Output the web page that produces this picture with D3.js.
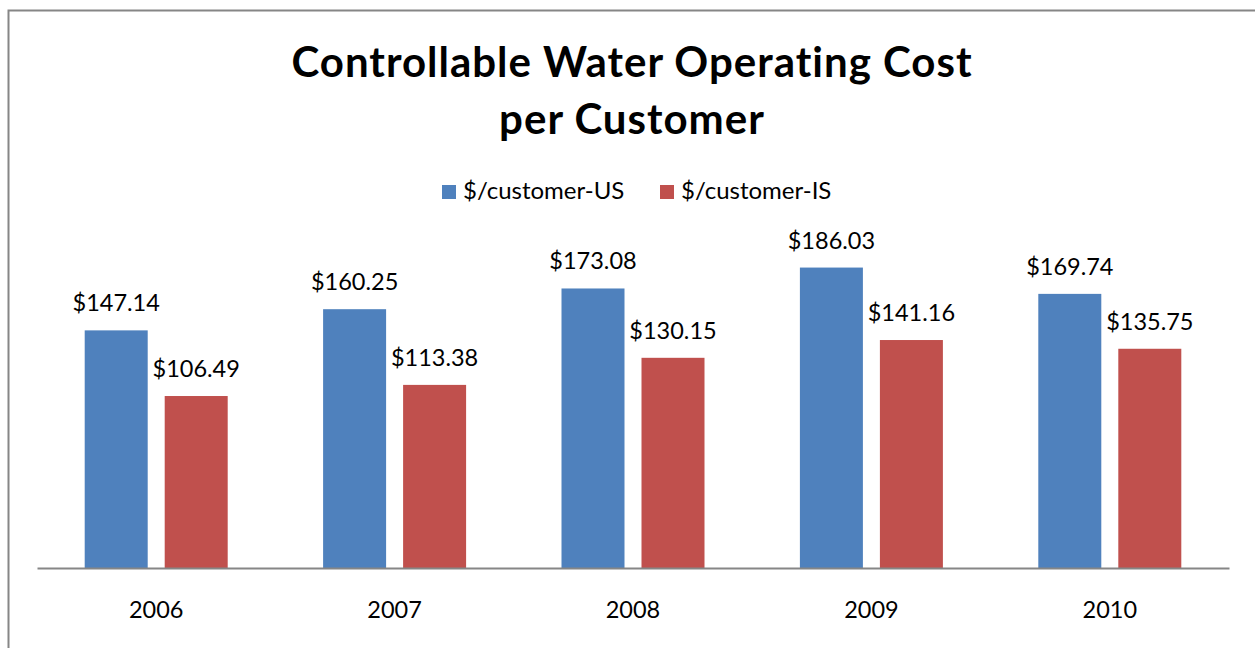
<!DOCTYPE html>
<html>
<head>
<meta charset="utf-8">
<script src="https://cdn.jsdelivr.net/npm/d3@7"></script>
<style>
  html, body { margin: 0; padding: 0; background: #fff; }
  svg { display: block; font-family: Lato, "Open Sans", sans-serif; }
</style>
</head>
<body>
<svg id="chart" width="1255" height="648"></svg>
<script>
// Chart data
const years = ["2006", "2007", "2008", "2009", "2010"];
const seriesNames = ["$/customer-US", "$/customer-IS"];
const usValues = [147.14, 160.25, 173.08, 186.03, 169.74];
const isValues = [106.49, 113.38, 130.15, 141.16, 135.75];
const colors = ["#4f81bd", "#c0504d"];
const titleLines = ["Controllable Water Operating Cost", "per Customer"];

const rows = years.map((y, i) => ({ year: y, vals: [usValues[i], isValues[i]] }));

const svg = d3.select("#chart");

// outer frame (runs off the right and bottom edges)
svg.append("rect")
  .attr("x", 8.5).attr("y", 10.5)
  .attr("width", 1260).attr("height", 660)
  .attr("fill", "#fff")
  .attr("stroke", "#868686").attr("stroke-width", 2);

// title
const title = svg.append("text")
  .attr("text-anchor", "middle")
  .attr("font-weight", "bold")
  .attr("font-size", 42)
  .attr("letter-spacing", 1)
  .attr("fill", "#000");
titleLines.forEach((t, i) => {
  title.append("tspan").attr("x", 632).attr("y", 77 + i * 57).text(t);
});

// plot geometry
const plotLeft = 37, plotRight = 1229, plotBase = 568, plotTop = 245;
const groupWidth = 143;

const x0 = d3.scaleBand().domain(years).range([plotLeft, plotRight]).paddingInner(0).paddingOuter(0);
const x1 = d3.scaleBand().domain([0, 1]).range([0, groupWidth]).paddingInner(0.2125).paddingOuter(0);
const groupOffset = (x0.bandwidth() - groupWidth) / 2;
const y = d3.scaleLinear().domain([0, 200]).range([plotBase, plotTop]);

// legend
const legend = svg.append("g").attr("font-size", 24);
const legendX = [442, 660];
seriesNames.forEach((name, i) => {
  const g = legend.append("g").attr("transform", `translate(${legendX[i]},185)`);
  g.append("rect").attr("width", 14).attr("height", 14).attr("fill", colors[i]);
  g.append("text").attr("x", 21).attr("y", 14).text(name);
});

// bars
const groups = svg.append("g").selectAll("g")
  .data(rows).join("g")
  .attr("transform", d => `translate(${x0(d.year) + groupOffset},0)`);

groups.selectAll("rect")
  .data(d => d.vals.map((v, i) => ({ v, i })))
  .join("rect")
  .attr("x", d => x1(d.i))
  .attr("width", x1.bandwidth())
  .attr("y", d => y(d.v))
  .attr("height", d => plotBase - y(d.v))
  .attr("fill", d => colors[d.i]);

// value labels
groups.selectAll("text")
  .data(d => d.vals.map((v, i) => ({ v, i })))
  .join("text")
  .attr("x", d => x1(d.i) + x1.bandwidth() / 2)
  .attr("y", d => y(d.v) - 19)
  .attr("text-anchor", "middle")
  .attr("font-size", 23.5)
  .attr("fill", "#000")
  .text(d => "$" + d3.format(".2f")(d.v));

// category axis
const xAxis = svg.append("g")
  .attr("transform", `translate(0,${plotBase})`)
  .call(d3.axisBottom(x0).tickSize(0).tickPadding(33));
xAxis.select(".domain").attr("stroke", "#868686").attr("stroke-width", 2);
xAxis.selectAll("text")
  .attr("font-size", 23.5)
  .attr("font-family", "Lato, 'Open Sans', sans-serif")
  .attr("fill", "#000");
</script>
</body>
</html>
